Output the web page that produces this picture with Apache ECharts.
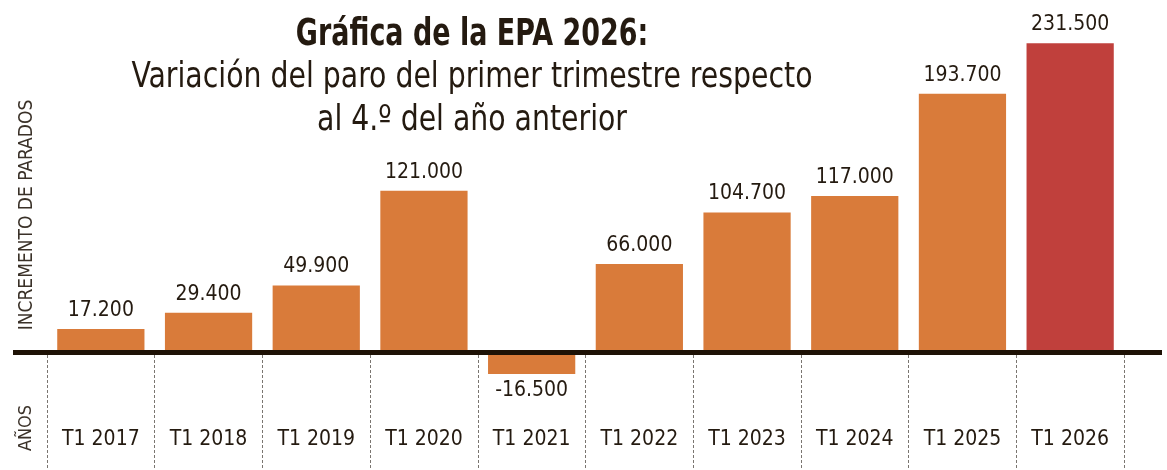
<!DOCTYPE html>
<html>
<head>
<meta charset="utf-8">
<script src="https://cdn.jsdelivr.net/npm/echarts@6/dist/echarts.min.js"></script>
<style>
  html, body { margin: 0; padding: 0; background: #fff; }
  #chart { width: 1167px; height: 470px; }
</style>
</head>
<body>
<div id="chart"></div>
<script>
var categories = ['T1 2017', 'T1 2018', 'T1 2019', 'T1 2020', 'T1 2021',
    'T1 2022', 'T1 2023', 'T1 2024', 'T1 2025', 'T1 2026'];
var values = [17200, 29400, 49900, 121000, -16500, 66000, 104700, 117000, 193700, 231500];
var highlightIndex = 9; // T1 2026 en rojo

var FONT = "'Liberation Sans Narrow', 'DejaVu Sans Condensed', 'Noto Sans', sans-serif";
var ORANGE = '#d97b3a';
var RED = '#c0403c';
var INK = '#241a10';

function fmt(v) {
    var s = Math.abs(v).toString().replace(/\B(?=(\d{3})+(?!\d))/g, '.');
    return (v < 0 ? '-' : '') + s;
}

var barData = values.map(function (v, i) {
    return {
        value: v,
        itemStyle: { color: i === highlightIndex ? RED : ORANGE },
        label: v < 0 ? { position: 'bottom', distance: 6 } : {}
    };
});

var myChart = echarts.init(document.getElementById('chart'));

var option = {
    animation: false,
    backgroundColor: '#fff',
    textStyle: { fontFamily: FONT },
    grid: [
        { left: 47, right: 43, top: 32, bottom: 38 },
        { left: 47, right: 43, top: 355, bottom: 0 }
    ],
    xAxis: [{
        type: 'category',
        gridIndex: 0,
        data: categories,
        show: false
    }, {
        type: 'category',
        gridIndex: 1,
        data: categories,
        axisLine: { show: false },
        axisTick: { show: false },
        axisLabel: {
            interval: 0,
            margin: -30,
            verticalAlign: 'middle',
            fontSize: 21,
            color: INK,
            fontFamily: FONT
        },
        splitLine: {
            show: true,
            interval: 0,
            lineStyle: { color: '#7a7570', width: 1, type: [3, 2] }
        }
    }],
    yAxis: [{
        type: 'value',
        gridIndex: 0,
        min: -60000,
        max: 240000,
        show: false,
        splitLine: { show: false }
    }, {
        type: 'value',
        gridIndex: 1,
        show: false,
        splitLine: { show: false }
    }],
    graphic: [
        // línea base
        { type: 'rect', shape: { x: 13, y: 350, width: 1149, height: 5 }, style: { fill: '#1e1206' }, z: 10 },
        { type: 'text', x: 472, y: 35, scaleX: 0.81, style: { text: 'Gráfica de la EPA 2026:', font: 'bold 37px ' + FONT, fill: INK, align: 'center', verticalAlign: 'middle' } },
        { type: 'text', x: 472, y: 78, scaleX: 0.9, style: { text: 'Variación del paro del primer trimestre respecto', font: '35px ' + FONT, fill: INK, align: 'center', verticalAlign: 'middle' } },
        { type: 'text', x: 472, y: 121, scaleX: 0.9, style: { text: 'al 4.º del año anterior', font: '35px ' + FONT, fill: INK, align: 'center', verticalAlign: 'middle' } },
        { type: 'text', x: 27, y: 215, rotation: Math.PI / 2, style: { text: 'INCREMENTO DE PARADOS', font: '19px ' + FONT, fill: '#3a3128', align: 'center', verticalAlign: 'middle' } },
        { type: 'text', x: 26, y: 428, rotation: Math.PI / 2, style: { text: 'AÑOS', font: '18px ' + FONT, fill: '#3a3128', align: 'center', verticalAlign: 'middle' } }
    ],
    series: [{
        type: 'bar',
        xAxisIndex: 0,
        yAxisIndex: 0,
        data: barData,
        barCategoryGap: '19%',
        label: {
            show: true,
            position: 'top',
            distance: 8,
            fontSize: 21,
            color: INK,
            fontFamily: FONT,
            formatter: function (p) { return fmt(p.value); }
        }
    }]
};

myChart.setOption(option);
</script>
</body>
</html>
